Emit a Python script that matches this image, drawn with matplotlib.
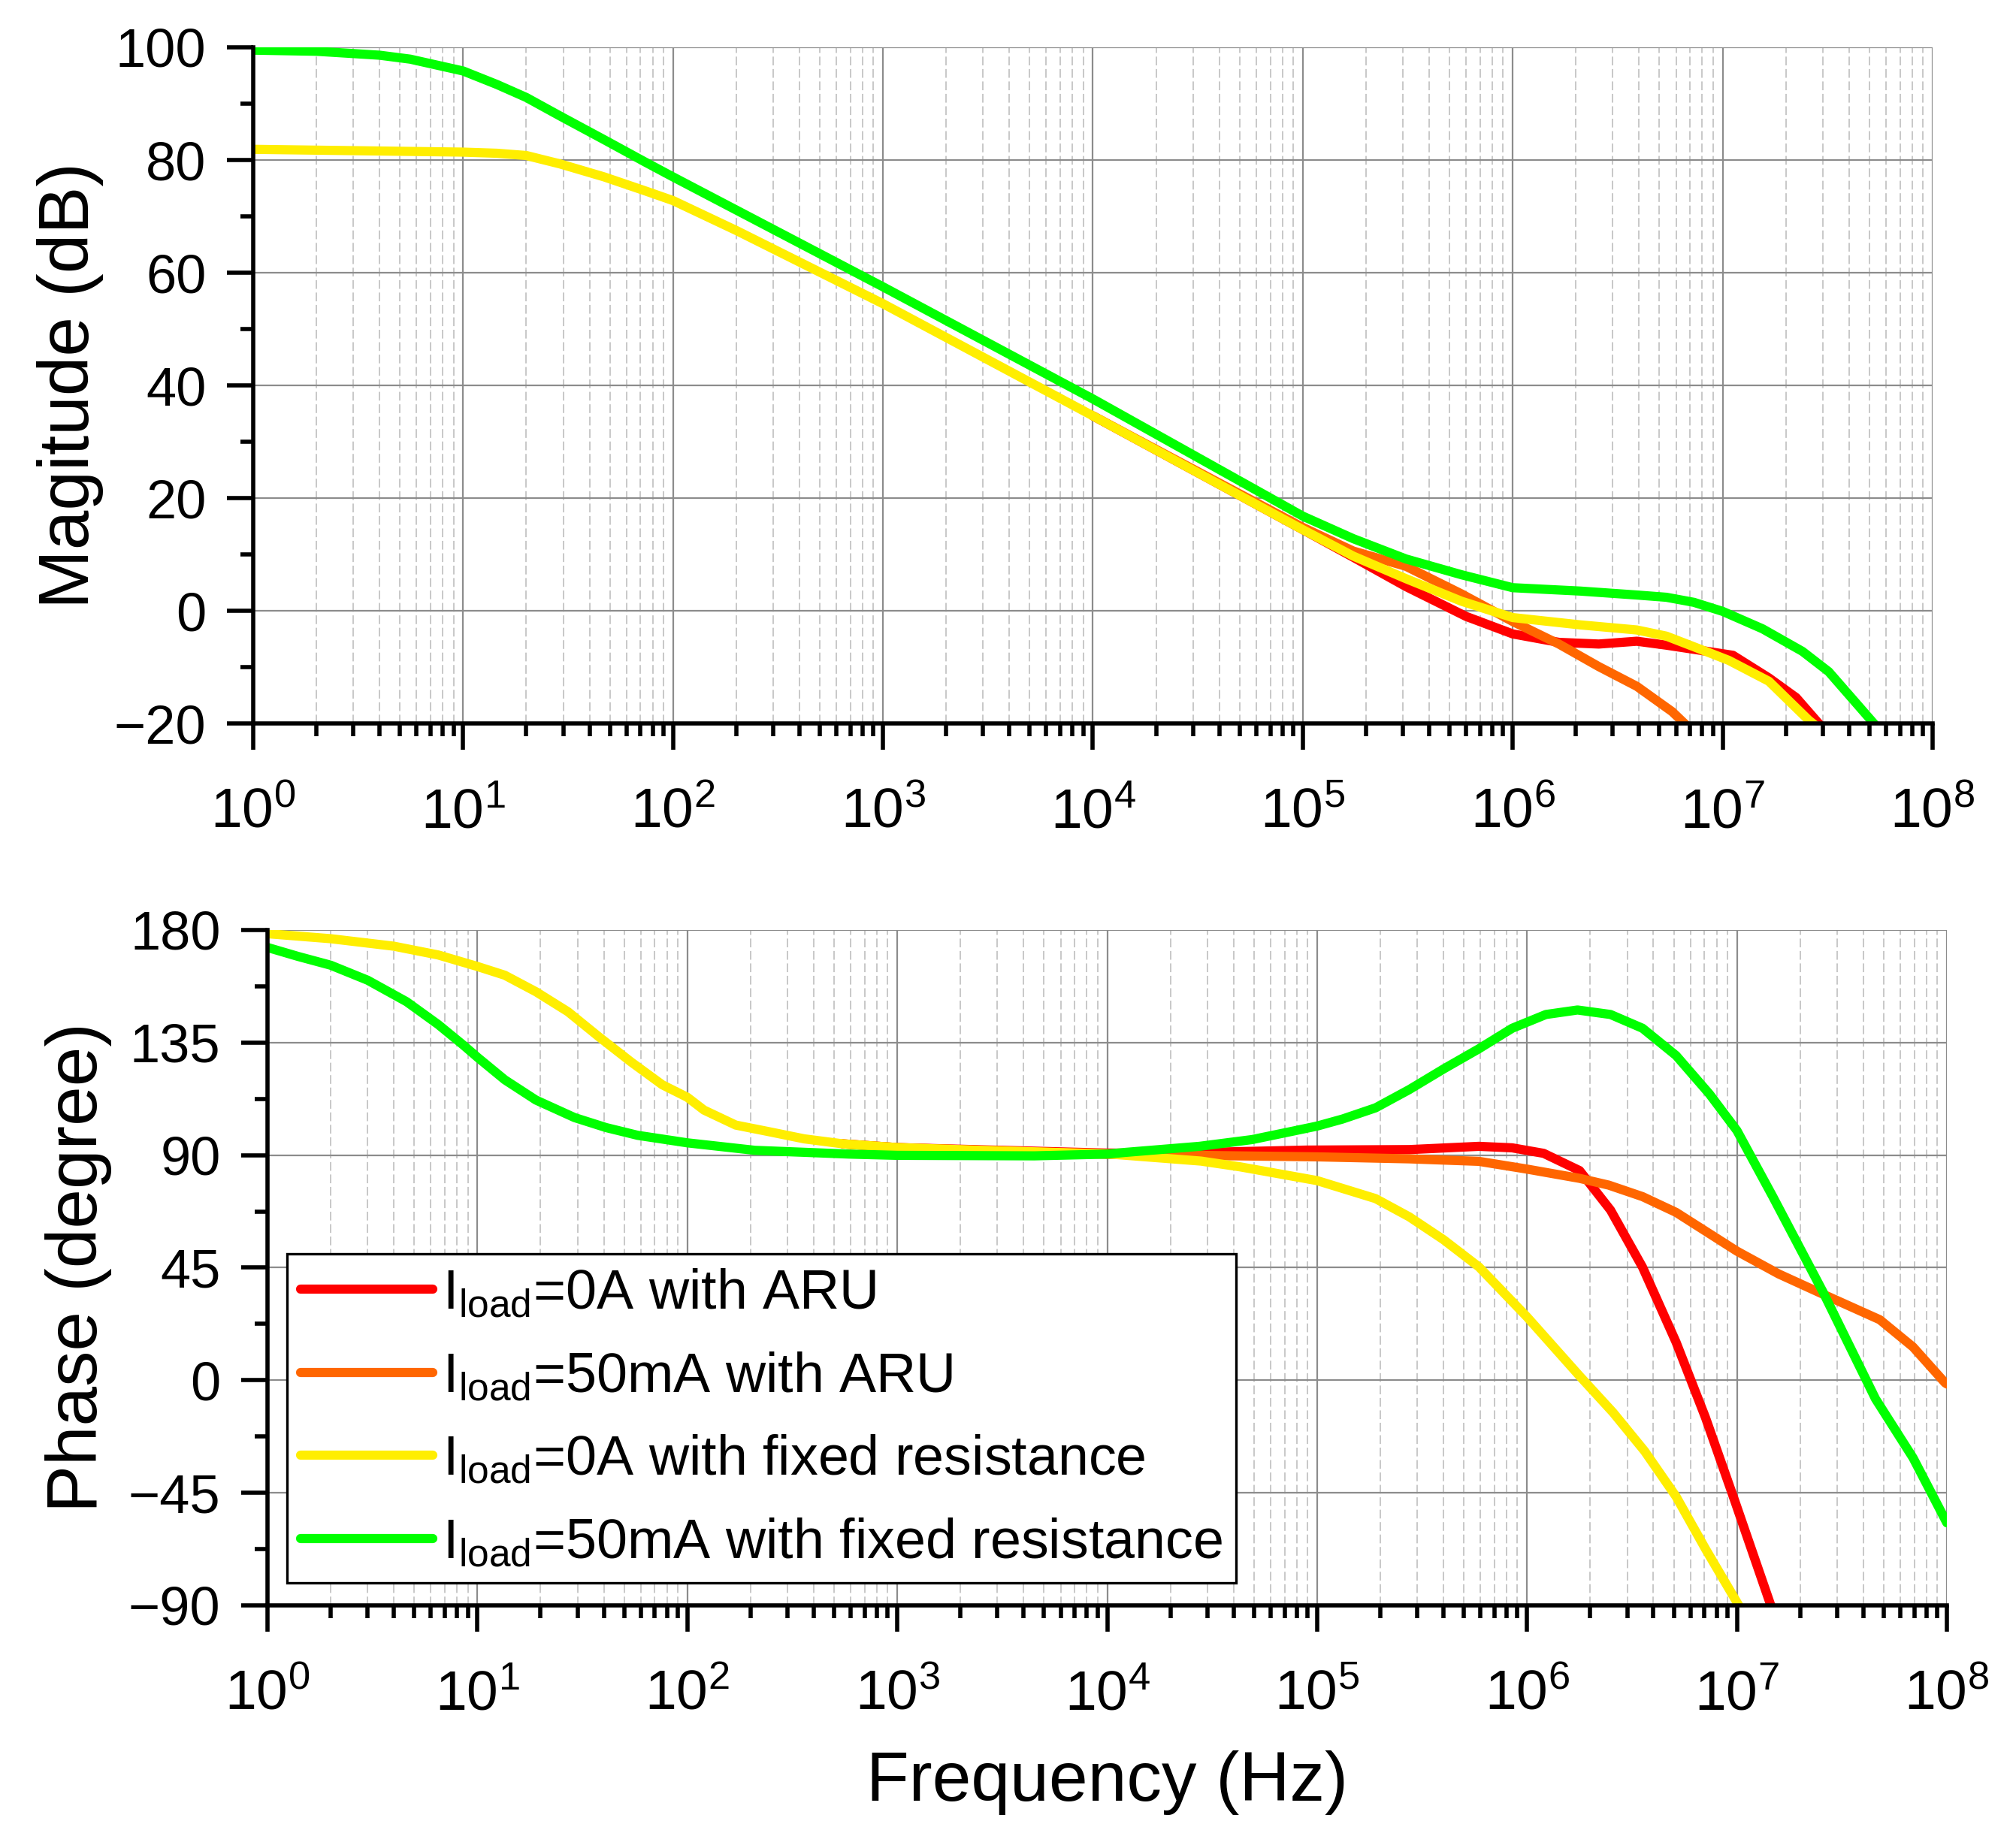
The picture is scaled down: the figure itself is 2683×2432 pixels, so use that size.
import matplotlib
matplotlib.use("Agg")
import matplotlib.pyplot as plt
from matplotlib.ticker import LogLocator, MultipleLocator, NullFormatter

plt.rcParams['font.family'] = ['Liberation Sans', 'DejaVu Sans']
plt.rcParams['mathtext.fontset'] = 'custom'
plt.rcParams['mathtext.rm'] = 'Liberation Sans'
plt.rcParams['mathtext.it'] = 'Liberation Sans:italic'
plt.rcParams['mathtext.bf'] = 'Liberation Sans:bold'

labels = [r'I$_{\mathdefault{load}}$=0A with ARU',
          r'I$_{\mathdefault{load}}$=50mA with ARU',
          r'I$_{\mathdefault{load}}$=0A with fixed resistance',
          r'I$_{\mathdefault{load}}$=50mA with fixed resistance']
colors = ['#ff0000', '#ff6600', '#ffee00', '#00ff00']

# --- magnitude (dB) ---
# ARU curves are hidden under the fixed-resistance 0A curve at low frequency
f_mag_red = [1e4, 1e5, 1.74e5, 3.1e5, 6e5, 1e6, 1.66e6, 2.57e6, 3.9e6, 5.4e6,
             7.8e6, 1.12e7, 1.66e7, 2.24e7, 2.95e7]
mag_red = [34.6, 14.4, 9.5, 4.3, -1.0, -4.1, -5.6, -5.9, -5.4, -6.1, -7.0,
           -7.9, -11.9, -15.4, -20.5]

f_mag_orange = [1e4, 1e5, 1.74e5, 3.1e5, 5.7e5, 1e6, 1.66e6, 2.57e6, 3.9e6,
                5.75e6, 6.8e6]
mag_orange = [34.6, 14.8, 10.6, 7.9, 3.0, -1.9, -5.9, -9.9, -13.4, -17.9,
              -20.5]

f_mag_yellow = [1, 10, 14.5, 20, 29, 47, 74, 100, 200, 1e3, 1e4, 1e5, 1.74e5,
                3.1e5, 5.7e5, 1e6, 2.1e6, 3.9e6, 5.4e6, 7.8e6, 1.07e7, 1.66e7,
                2.57e7, 2.8e7]
mag_yellow = [81.9, 81.4, 81.2, 80.8, 79.3, 77.0, 74.5, 72.8, 67.5, 54.5,
              34.6, 14.4, 9.7, 5.7, 1.7, -1.2, -2.5, -3.4, -4.5, -6.8, -8.8,
              -12.5, -19.4, -20.5]

f_mag_green = [1, 2, 4, 5.6, 7.8, 10, 14.5, 20, 29, 47, 74, 100, 1e3, 1e4,
               1e5, 1.74e5, 3.1e5, 5.7e5, 1e6, 2.1e6, 3.9e6, 5.4e6, 7.3e6,
               1e7, 1.55e7, 2.4e7, 3.2e7, 5.4e7]
mag_green = [99.5, 99.3, 98.6, 97.9, 96.7, 95.8, 93.4, 91.1, 87.8, 83.6,
             79.6, 77.0, 57.5, 37.6, 16.8, 12.8, 9.2, 6.4, 4.1, 3.5, 2.8, 2.4,
             1.5, -0.1, -3.2, -7.2, -10.8, -20.5]

# --- phase (degree) ---
f_ph_red = [550, 1e3, 1e4, 2.1e4, 8.9e4, 2.75e5, 5.9e5, 8.5e5, 1.2e6, 1.78e6,
            2.5e6, 3.55e6, 5.13e6, 7.08e6, 9.8e6, 1.45e7, 1.5e7]
ph_red = [94.5, 93, 90.8, 90.8, 92, 92.2, 93.5, 92.9, 90.7, 83.8, 68, 45.2,
          15.2, -14.9, -48.6, -90, -92]

f_ph_orange = [550, 1e3, 1e4, 2.1e4, 1e5, 2.75e5, 5.9e5, 1e6, 1.78e6, 2.45e6,
               3.55e6, 5.13e6, 1e7, 1.58e7, 2.57e7, 4.79e7, 6.9e7, 9.8e7,
               1e8]
ph_orange = [94.5, 93, 90.3, 90.0, 89.3, 88.5, 87.5, 84.4, 80.7, 78, 73.4,
             67.1, 51.6, 42.5, 34.4, 24.2, 13.3, -1, -1.5]

f_ph_yellow = [1, 2, 4, 6.5, 10, 13.5, 19, 27, 38, 54, 76, 100, 120, 170,
               240, 360, 550, 1e3, 2.3e3, 1e4, 2.8e4, 4.3e4, 1e5, 1.9e5,
               2.75e5, 4e5, 5.9e5, 1e6, 1.78e6, 2.57e6, 3.63e6, 5.13e6,
               7.08e6, 1.02e7, 1.05e7]
ph_yellow = [178.5, 176.5, 173.5, 170, 165.4, 161.9, 155.3, 147.3, 137.2,
             127.2, 118.1, 113.1, 108, 102, 99.5, 96.5, 94.5, 93, 92, 90.5,
             87.6, 85.3, 79.8, 72.6, 65.3, 56.2, 45.3, 25.3, 1.7, -12.9,
             -28.3, -46.5, -67.4, -90, -92]

f_ph_green = [1, 1.4, 2, 3, 4.6, 6.5, 8.5, 10, 13.5, 19, 29, 41, 58, 100, 210,
              590, 1e3, 4.5e3, 1e4, 1.23e4, 2.75e4, 4.9e4, 7.9e4, 1e5, 1.32e5,
              1.9e5, 2.75e5, 4e5, 5.9e5, 8.5e5, 1.23e6, 1.74e6, 2.5e6,
              3.55e6, 5.13e6, 7.4e6, 1e7, 1.48e7, 2.57e7, 4.57e7, 6.9e7, 1e8]
ph_green = [173, 169.4, 165.9, 159.9, 151.3, 142.2, 134.2, 129.1, 120.1, 112,
            105, 101, 97.9, 94.9, 91.9, 90.4, 89.9, 89.7, 90.4, 91.1, 93.5,
            96.2, 99.8, 101.6, 104.4, 108.9, 116.2, 124.4, 132.5, 140.7,
            146.2, 148, 146.2, 140.7, 129.8, 114.4, 99.8, 73.5, 35.3, -7.4,
            -31, -57]

mag_f = [f_mag_red, f_mag_orange, f_mag_yellow, f_mag_green]
mag_v = [mag_red, mag_orange, mag_yellow, mag_green]
ph_f = [f_ph_red, f_ph_orange, f_ph_yellow, f_ph_green]
ph_v = [ph_red, ph_orange, ph_yellow, ph_green]

fig = plt.figure(figsize=(13.415, 12.16), dpi=200)
ax1 = fig.add_axes([0.1256, 0.6040, 0.8330, 0.3701])
ax2 = fig.add_axes([0.1327, 0.1213, 0.8330, 0.3697])

for f, v, c, lab in zip(mag_f, mag_v, colors, labels):
    ax1.plot(f, v, color=c, lw=4.4, label=lab, solid_capstyle='round')
for f, v, c, lab in zip(ph_f, ph_v, colors, labels):
    ax2.plot(f, v, color=c, lw=4.4, label=lab, solid_capstyle='round')


def style_axis(ax, ylim, ymajor, yminor, ylabel, lpad):
    ax.set_xscale('log')
    ax.set_xlim(1, 1e8)
    ax.set_ylim(*ylim)
    ax.yaxis.set_major_locator(MultipleLocator(ymajor))
    ax.yaxis.set_minor_locator(MultipleLocator(yminor))
    ax.xaxis.set_major_locator(LogLocator(base=10, numticks=20))
    ax.xaxis.set_minor_locator(LogLocator(base=10, subs=range(2, 10), numticks=20))
    ax.xaxis.set_minor_formatter(NullFormatter())
    for side in ['top', 'right']:
        ax.spines[side].set_visible(False)
    for side in ['left', 'bottom']:
        ax.spines[side].set_linewidth(2.0)
    ax.tick_params(which='major', direction='out', length=12.5, width=2.0)
    ax.tick_params(which='minor', direction='out', length=6, width=2.0)
    ax.tick_params(axis='y', which='major', labelsize=26, pad=10)
    ax.tick_params(axis='x', which='major', labelsize=27, pad=18)
    ax.set_axisbelow(True)
    ax.grid(which='major', color='#8c8c8c', lw=0.8, ls='-')
    ax.grid(which='minor', axis='x', color='#c8c8c8', lw=0.7, ls=(0, (6, 2.5)))
    ax.set_ylabel(ylabel, fontsize=34, labelpad=lpad)


style_axis(ax1, (-20, 100), 20, 10, 'Magitude (dB)', 5)
style_axis(ax2, (-90, 180), 45, 22.5, 'Phase (degree)', 8)
ax2.set_xlabel('Frequency (Hz)', fontsize=33.5, labelpad=14)

leg = ax2.legend(loc='lower left', bbox_to_anchor=(0.0116, 0.0334),
                 borderaxespad=0, fontsize=26.5, handlelength=2.38,
                 handletextpad=0.18, labelspacing=0.55, borderpad=0.25,
                 fancybox=False, framealpha=1, edgecolor='black')
leg.get_frame().set_linewidth(1.2)

fig.savefig('out.png', dpi=200)
